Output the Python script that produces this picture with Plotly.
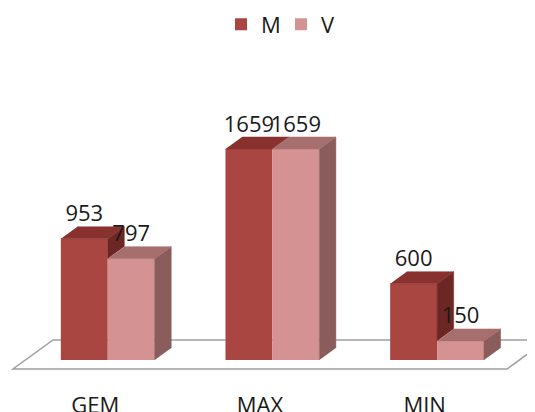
import plotly.graph_objects as go

# ---- data ----
categories = ["GEM", "MAX", "MIN"]
series_names = ["M", "V"]
m_values = [953, 1659, 600]
v_values = [797, 1659, 150]

# ---- styling / geometry constants ----
PAGE_OFFSET = 8            # default body margin of the html page
FIG_W, FIG_H = 535 - PAGE_OFFSET, 412 - PAGE_OFFSET
MARGIN_B = 33
CAT_PX = 164.67            # pixels per category along floor front
FLOOR_LEFT_PX = 13 - PAGE_OFFSET   # left front corner of floor
FLOOR_FRONT_FROM_BOTTOM = 10  # floor front edge above plot bottom (px)
UPP = 1659 / 211           # value units per pixel
DEPTH_DX_PX, DEPTH_DY_PX = 40, 29   # full floor depth projection
Z0, Z1 = 9 / 29, 21 / 29   # bar depth (front, back) as fraction of floor depth
BAR_W = 0.285

front_colors = ["#A94642", "#D49392"]
top_colors = ["#89312E", "#A66F6E"]
side_colors = ["#6C2725", "#8A5C5B"]
FONT = "Open Sans"

plot_h = FIG_H - MARGIN_B
x_min = -0.5 - FLOOR_LEFT_PX / CAT_PX
x_max = x_min + FIG_W / CAT_PX
y_min = -FLOOR_FRONT_FROM_BOTTOM * UPP
y_max = y_min + plot_h * UPP
dxu = DEPTH_DX_PX / CAT_PX
dyu = DEPTH_DY_PX * UPP


def proj(x, v, z):
    return x + z * dxu, v + z * dyu


fig = go.Figure()

series = [m_values, v_values]

# front faces as bars
for k, (name, vals) in enumerate(zip(series_names, series)):
    xs = [i + (k - 0.5) * BAR_W + Z0 * dxu for i in range(len(categories))]
    fig.add_trace(go.Bar(
        x=xs, y=vals, base=Z0 * dyu, width=BAR_W, name=name,
        marker=dict(color=front_colors[k], line=dict(width=0)),
        hoverinfo="skip",
    ))

# top and side faces
for k, vals in enumerate(series):
    for i, v in enumerate(vals):
        x0 = i + (k - 1) * BAR_W
        x1 = x0 + BAR_W
        # side (visible part only)
        if k == 0:
            low = min(series[1][i], v)
        else:
            low = 0
        if v > low:
            pts = [proj(x1, low, Z0), proj(x1, v, Z0), proj(x1, v, Z1), proj(x1, low, Z1)]
            fig.add_trace(go.Scatter(
                x=[p[0] for p in pts], y=[p[1] for p in pts], fill="toself",
                mode="lines", line=dict(width=0.5, color=side_colors[k]),
                fillcolor=side_colors[k], showlegend=False, hoverinfo="skip"))
        # top
        pts = [proj(x0, v, Z0), proj(x1, v, Z0), proj(x1, v, Z1), proj(x0, v, Z1)]
        fig.add_trace(go.Scatter(
            x=[p[0] for p in pts], y=[p[1] for p in pts], fill="toself",
            mode="lines", line=dict(width=0.5, color=top_colors[k]),
            fillcolor=top_colors[k], showlegend=False, hoverinfo="skip"))

# data labels
for k, vals in enumerate(series):
    xs = [i + (k - 0.5) * BAR_W + Z0 * dxu for i in range(len(categories))]
    ys = [v + Z1 * dyu for v in vals]
    fig.add_trace(go.Scatter(
        x=xs, y=ys, mode="text", text=[str(v) for v in vals],
        textposition="top center",
        textfont=dict(family=FONT, size=22, color="#1a1a1a"),
        showlegend=False, hoverinfo="skip", cliponaxis=False))

# floor
fx = [-0.5, 2.5]
c = [proj(fx[0], 0, 0), proj(fx[1], 0, 0), proj(fx[1], 0, 1), proj(fx[0], 0, 1)]
path = "M {} {} L {} {} L {} {} L {} {} Z".format(*[val for p in c for val in p])
fig.add_shape(type="path", path=path, xref="x", yref="y", layer="below",
              line=dict(color="#A0A0A0", width=1.5), fillcolor="white")

fig.update_layout(
    width=FIG_W, height=FIG_H,
    margin=dict(l=0, r=0, t=0, b=MARGIN_B, autoexpand=False),
    paper_bgcolor="white", plot_bgcolor="white",
    barmode="overlay",
    font=dict(family=FONT, color="#1a1a1a"),
    showlegend=True,
    legend=dict(orientation="h", x=213 / FIG_W, xanchor="left",
                y=1 + 4.5 / plot_h, yanchor="top",
                font=dict(family=FONT, size=22, color="#1a1a1a"),
                entrywidth=15, bgcolor="rgba(0,0,0,0)"),
    xaxis=dict(range=[x_min, x_max], showgrid=False, zeroline=False, showline=False,
               tickmode="array", tickvals=list(range(len(categories))), ticktext=categories,
               tickfont=dict(family=FONT, size=22, color="#1a1a1a"),
               ticks="", ticklabelstandoff=11, fixedrange=True),
    yaxis=dict(range=[y_min, y_max], visible=False, fixedrange=True),
)

fig.write_html("out.html")
